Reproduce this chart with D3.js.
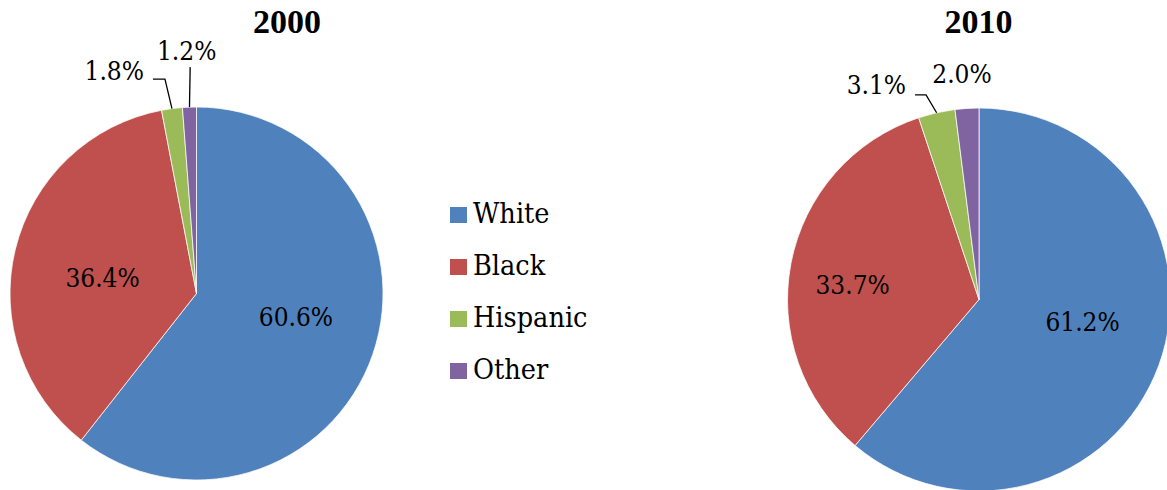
<!DOCTYPE html>
<html>
<head>
<meta charset="utf-8">
<script src="https://cdn.jsdelivr.net/npm/d3@7"></script>
<style>
  html, body { margin: 0; padding: 0; background: #fff; }
</style>
</head>
<body>
<svg id="chart" width="1167" height="490"></svg>
<script>
// Population share by group, two census years
const categories = ["White", "Black", "Hispanic", "Other"];
const years = ["2000", "2010"];
const values2000 = [60.6, 36.4, 1.8, 1.2];
const values2010 = [61.2, 33.7, 3.1, 2.0];
const colors = ["#4F81BD", "#C0504D", "#9BBB59", "#8064A2"];

const FONT = "'DejaVu Serif Condensed', 'DejaVu Serif', serif";
const TITLE_FONT = "'Liberation Serif', 'Times New Roman', serif";

const svg = d3.select("#chart").attr("font-family", FONT);

const pies = [
  { year: years[0], values: values2000, cx: 196.5, cy: 293.5, r: 186.5, titleX: 287,
    // inside label nudges (White, Black) and outside label layout (Hispanic, Other)
    inside: [[2.5, -11], [5.7, 7.8]],
    outside: [
      { elbow: [-7, -29.5], tail: -12, anchor: "end", tx: -9, ty: 1 },
      { elbow: [0.7, -40], tail: 0, anchor: "middle", tx: -3.5, ty: -7 }
    ] },
  { year: years[1], values: values2010, cx: 979, cy: 299.5, r: 191.5, titleX: 978.5,
    inside: [[4.7, -14.8], [-23, 4.6]],
    outside: [
      { elbow: [-10.6, -17.8], tail: -11, anchor: "end", tx: -9, ty: -1 },
      { elbow: null, anchor: "middle", pos: [-5, -25] }
    ] }
];

const pie = d3.pie().sort(null).value(d => d);

function addText(parent, x, y, str, size, anchor, family, weight) {
  return parent.append("text")
    .attr("x", x)
    .attr("y", y)
    .attr("text-anchor", anchor)
    .attr("font-family", family || FONT)
    .attr("font-size", size)
    .attr("font-weight", weight || "normal")
    .attr("fill", "#000")
    .text(str);
}

pies.forEach(p => {
  const g = svg.append("g").attr("transform", `translate(${p.cx},${p.cy})`);
  const arcs = pie(p.values);
  const arc = d3.arc().innerRadius(0).outerRadius(p.r);
  const labelArc = d3.arc().innerRadius(p.r * 0.55).outerRadius(p.r * 0.55);
  const edgeArc = d3.arc().innerRadius(p.r).outerRadius(p.r);

  g.selectAll("path.slice")
    .data(arcs)
    .join("path")
    .attr("class", "slice")
    .attr("d", arc)
    .attr("fill", (d, i) => colors[i])
    .attr("stroke", "#ffffff")
    .attr("stroke-width", 0.75);

  // Large slices: labels inside
  arcs.slice(0, 2).forEach((d, i) => {
    const c = labelArc.centroid(d);
    const n = p.inside[i];
    addText(g, c[0] + n[0], c[1] + n[1], d.value.toFixed(1) + "%", 26, "middle")
      .attr("dy", "0.37em");
  });

  // Small slices: labels outside with leader lines
  arcs.slice(2).forEach((d, j) => {
    const o = p.outside[j];
    const e = edgeArc.centroid(d);
    const label = d.value.toFixed(1) + "%";
    if (o.elbow) {
      const ex = e[0] + o.elbow[0], ey = e[1] + o.elbow[1];
      const endX = ex + o.tail;
      g.append("polyline")
        .attr("points", [[e[0], e[1]], [ex, ey], [endX, ey]].map(q => q.join(",")).join(" "))
        .attr("fill", "none")
        .attr("stroke", "#000")
        .attr("stroke-width", 1.3);
      addText(g, endX + o.tx, ey + o.ty, label, 26, o.anchor);
    } else {
      addText(g, e[0] + o.pos[0], e[1] + o.pos[1], label, 26, o.anchor);
    }
  });

  addText(svg, p.titleX, 33, p.year, 34, "middle", TITLE_FONT, "bold");
});

// Legend
const legendY = d3.scalePoint().domain(categories).range([215, 371]);
const legend = svg.append("g");
categories.forEach((c, i) => {
  legend.append("rect")
    .attr("x", 450)
    .attr("y", legendY(c) - 8)
    .attr("width", 17)
    .attr("height", 16)
    .attr("fill", colors[i]);
  addText(legend, 473, legendY(c) + 8, c, 28.5, "start");
});
</script>
</body>
</html>
